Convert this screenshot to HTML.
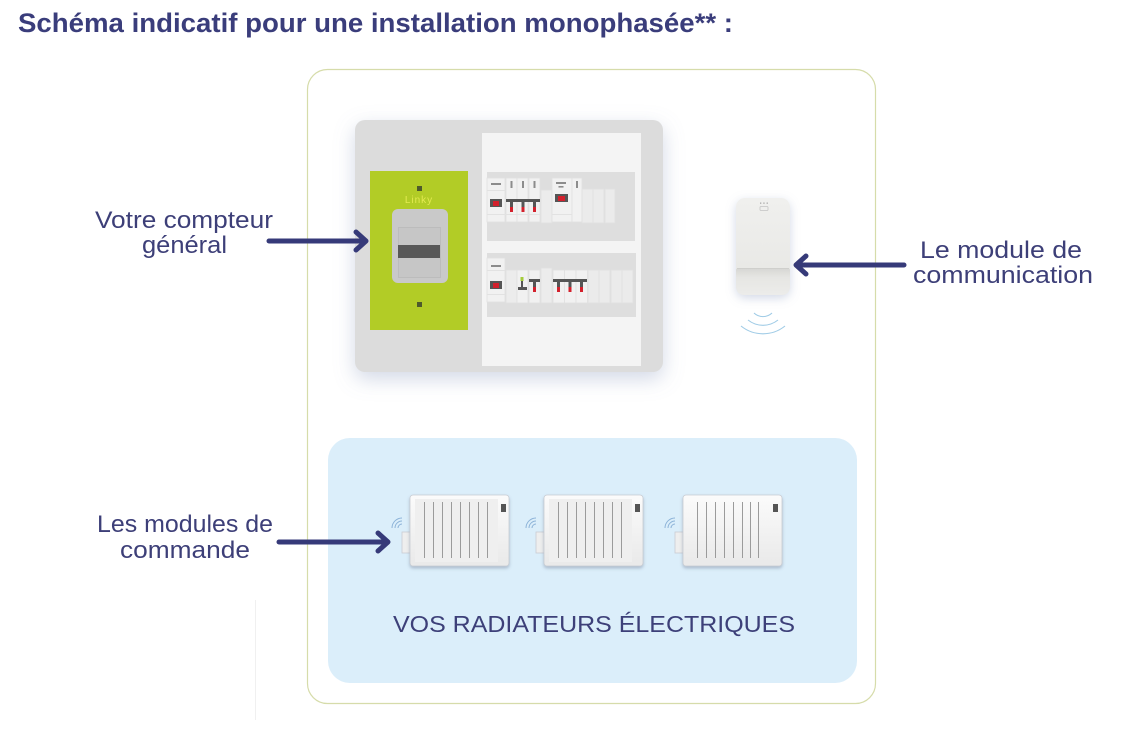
<!DOCTYPE html>
<html>
<head>
<meta charset="utf-8">
<style>
  html,body{margin:0;padding:0;background:#fff;}
  svg{display:block;}
  text{font-family:"Liberation Sans",sans-serif;}
</style>
</head>
<body>
<svg width="1138" height="732" viewBox="0 0 1138 732" xmlns="http://www.w3.org/2000/svg">
  <defs>
    <filter id="panelShadow" x="-20%" y="-20%" width="140%" height="150%">
      <feDropShadow dx="0" dy="7" stdDeviation="10" flood-color="#7f92b8" flood-opacity="0.35"/>
    </filter>
    <filter id="modShadow" x="-40%" y="-20%" width="180%" height="150%">
      <feDropShadow dx="0" dy="3" stdDeviation="5" flood-color="#8090b8" flood-opacity="0.35"/>
    </filter>
    <filter id="radShadow" x="-10%" y="-10%" width="120%" height="130%">
      <feDropShadow dx="0" dy="2" stdDeviation="1.5" flood-color="#6d7d96" flood-opacity="0.45"/>
    </filter>
    <linearGradient id="radGrad" x1="0" y1="0" x2="0" y2="1">
      <stop offset="0" stop-color="#fbfbfb"/>
      <stop offset="1" stop-color="#e9e9e9"/>
    </linearGradient>
    <linearGradient id="modGrad" x1="0" y1="0" x2="0" y2="1">
      <stop offset="0" stop-color="#f0f0ee"/>
      <stop offset="1" stop-color="#e6e6e3"/>
    </linearGradient>
    <linearGradient id="flapGrad" x1="0" y1="0" x2="0" y2="1">
      <stop offset="0" stop-color="#d6d6d3"/>
      <stop offset="0.35" stop-color="#e6e6e3"/>
      <stop offset="1" stop-color="#ececea"/>
    </linearGradient>
  </defs>

  <!-- Title -->
  <text x="18" y="32" font-size="27" font-weight="bold" fill="#3a3d7b" textLength="715" lengthAdjust="spacingAndGlyphs">Schéma indicatif pour une installation monophasée** :</text>

  <!-- faint line bottom left -->
  <line x1="255.5" y1="600" x2="255.5" y2="720" stroke="#f0f0f0" stroke-width="1"/>

  <!-- Container -->
  <rect x="307.5" y="69.5" width="568" height="634" rx="20" ry="20" fill="#fff" stroke="#d6dcaa" stroke-width="1.2"/>

  <!-- Blue box -->
  <rect x="328" y="438" width="529" height="245" rx="22" ry="22" fill="#dbeefa"/>

  <!-- Electrical panel -->
  <rect x="355" y="120" width="308" height="252" rx="10" ry="10" fill="#dcdcdc" filter="url(#panelShadow)"/>

  <!-- Linky -->
  <rect x="370" y="171" width="98" height="159" fill="#b2cc26"/>
  <rect x="417" y="186" width="5" height="5" fill="#4e5a2c"/>
  <rect x="417" y="302" width="5" height="5" fill="#4e5a2c"/>
  <text x="419" y="203" font-size="10" fill="#e3ea50" text-anchor="middle" letter-spacing="1">Linky</text>
  <rect x="392" y="209" width="56" height="74" rx="6" fill="#c9c9c9"/>
  <rect x="398.5" y="227.5" width="42" height="50" fill="#c6c6c6" stroke="#bcbcbc" stroke-width="1"/>
  <rect x="398" y="245" width="42" height="13" fill="#585858"/>

  <!-- Breaker area -->
  <rect x="482" y="133" width="159" height="233" fill="#f4f4f4"/>
  <rect x="487" y="172" width="148" height="69" fill="#dedede"/>
  <rect x="487" y="253" width="149" height="64" fill="#dedede"/>

  <g stroke="#e0e0e0" stroke-width="0.8">
    <!-- row 1 -->
    <rect x="487" y="178" width="18" height="44" fill="#f1f1f1"/>
    <rect x="506" y="178" width="11" height="44" fill="#f1f1f1"/>
    <rect x="517" y="178" width="11" height="44" fill="#f1f1f1"/>
    <rect x="529" y="178" width="11" height="44" fill="#f1f1f1"/>
    <rect x="541" y="190" width="11" height="33" fill="#ececec"/>
    <rect x="552" y="178" width="20" height="44" fill="#f1f1f1"/>
    <rect x="572" y="178" width="10" height="44" fill="#f1f1f1"/>
    <rect x="582" y="189" width="11" height="34" fill="#ebebeb"/>
    <rect x="593" y="189" width="11" height="34" fill="#ebebeb"/>
    <rect x="605" y="189" width="10" height="34" fill="#ebebeb"/>
    <!-- row 2 -->
    <rect x="487" y="258" width="18" height="44" fill="#f1f1f1"/>
    <rect x="506" y="270" width="11" height="33" fill="#ececec"/>
    <rect x="517" y="270" width="11" height="33" fill="#f1f1f1"/>
    <rect x="529" y="270" width="11" height="33" fill="#f1f1f1"/>
    <rect x="541" y="268" width="11" height="35" fill="#ececec"/>
    <rect x="553" y="270" width="11.5" height="33" fill="#f1f1f1"/>
    <rect x="564.5" y="270" width="11.5" height="33" fill="#f1f1f1"/>
    <rect x="576" y="270" width="11.5" height="33" fill="#f1f1f1"/>
    <rect x="588" y="270" width="11" height="33" fill="#ebebeb"/>
    <rect x="599" y="270" width="11" height="33" fill="#ebebeb"/>
    <rect x="611" y="270" width="11" height="33" fill="#ebebeb"/>
    <rect x="622" y="270" width="11" height="33" fill="#ebebeb"/>
  </g>
  <!-- module separators -->
  <g fill="#e2e2e2">
    <rect x="487" y="190" width="18" height="1"/>
    <rect x="487" y="214" width="53" height="1"/>
    <rect x="552" y="214" width="20" height="1"/>
    <rect x="487" y="270" width="18" height="1"/>
    <rect x="487" y="294" width="18" height="1"/>
  </g>
  <!-- row1 marks -->
  <g fill="#8c8c8c">
    <rect x="491" y="183" width="10" height="2"/>
    <rect x="510.5" y="181" width="2" height="7"/>
    <rect x="522" y="181" width="2" height="7"/>
    <rect x="533.5" y="181" width="2" height="7"/>
    <rect x="556" y="182" width="10" height="2"/>
    <rect x="558.5" y="186" width="5" height="1.6"/>
    <rect x="576" y="181" width="2" height="7"/>
    <rect x="491" y="265" width="10" height="2"/>
  </g>
  <g fill="#555">
    <rect x="490" y="199" width="12" height="8"/>
    <rect x="506" y="199" width="34" height="3"/>
    <rect x="510" y="202" width="3" height="6"/>
    <rect x="521.5" y="202" width="3" height="6"/>
    <rect x="533" y="202" width="3" height="6"/>
    <rect x="555" y="194" width="13" height="8"/>
    <rect x="490" y="281" width="12" height="8"/>
    <rect x="521" y="281" width="2" height="7"/>
    <rect x="518" y="287" width="9" height="3"/>
    <rect x="529" y="279" width="11" height="3"/>
    <rect x="533" y="282" width="3" height="6"/>
    <rect x="553" y="279" width="34" height="3"/>
    <rect x="557" y="282" width="3" height="6"/>
    <rect x="568.5" y="282" width="3" height="6"/>
    <rect x="580" y="282" width="3" height="6"/>
  </g>
  <g fill="#d3202c">
    <rect x="493" y="201" width="6" height="5"/>
    <rect x="510" y="207" width="3" height="5"/>
    <rect x="521.5" y="207" width="3" height="5"/>
    <rect x="533" y="207" width="3" height="5"/>
    <rect x="558" y="196" width="7" height="5"/>
    <rect x="493" y="283" width="6" height="5"/>
    <rect x="533" y="287" width="3" height="5"/>
    <rect x="557" y="287" width="3" height="5"/>
    <rect x="568.5" y="287" width="3" height="5"/>
    <rect x="580" y="287" width="3" height="5"/>
  </g>
  <rect x="520.5" y="277" width="3" height="4" fill="#a4cc3a"/>

  <!-- Communication module -->
  <g filter="url(#modShadow)">
    <rect x="736" y="198" width="54" height="97" rx="9" ry="9" fill="url(#modGrad)"/>
  </g>
  <path d="M736 270 Q736 268 740 268 L786 268 Q790 268 790 270 L790 286 Q790 295 781 295 L745 295 Q736 295 736 286 Z" fill="url(#flapGrad)"/>
  <line x1="737" y1="268.5" x2="789" y2="268.5" stroke="#cfcfcc" stroke-width="1"/>
  <g fill="#a9a9a9">
    <rect x="760" y="202.5" width="1.3" height="1.3"/>
    <rect x="763.3" y="202.5" width="1.3" height="1.3"/>
    <rect x="766.6" y="202.5" width="1.3" height="1.3"/>
  </g>
  <rect x="760" y="206.5" width="8" height="4" rx="1" fill="none" stroke="#c4c4c4" stroke-width="0.8"/>

  <!-- waves under module -->
  <g fill="none" stroke="#9fcbe6" stroke-width="1.1">
    <path d="M754 313 A13 13 0 0 0 772 313"/>
    <path d="M748 320 A24 24 0 0 0 778 320"/>
    <path d="M741 326 A35 35 0 0 0 785 326"/>
  </g>

  <!-- Radiators -->
  <g id="rad1">
    <g fill="none" stroke="#8db3d8" stroke-width="1">
      <path d="M398 528 A4 4 0 0 1 402 524"/>
      <path d="M395 528 A7 7 0 0 1 402 521"/>
      <path d="M392 528 A10 10 0 0 1 402 518"/>
    </g>
    <rect x="402" y="532" width="9" height="21" fill="#eeeeee" stroke="#c9ccd2" stroke-width="0.8"/>
    <rect x="410" y="495" width="99" height="71" rx="3" fill="url(#radGrad)" stroke="#c8ccd3" stroke-width="0.8" filter="url(#radShadow)"/>
    <rect x="415" y="499" width="83" height="63" fill="#efefef"/>
    <g stroke="#9b9b9b" stroke-width="1">
      <line x1="424.5" y1="502" x2="424.5" y2="558"/>
      <line x1="433.5" y1="502" x2="433.5" y2="558"/>
      <line x1="442.5" y1="502" x2="442.5" y2="558"/>
      <line x1="451.5" y1="502" x2="451.5" y2="558"/>
      <line x1="460.5" y1="502" x2="460.5" y2="558"/>
      <line x1="469.5" y1="502" x2="469.5" y2="558"/>
      <line x1="478.5" y1="502" x2="478.5" y2="558"/>
      <line x1="487.5" y1="502" x2="487.5" y2="558"/>
    </g>
    <rect x="501" y="504" width="5" height="8" fill="#555"/>
  </g>
  <g id="rad2">
    <g fill="none" stroke="#8db3d8" stroke-width="1">
      <path d="M532 528 A4 4 0 0 1 536 524"/>
      <path d="M529 528 A7 7 0 0 1 536 521"/>
      <path d="M526 528 A10 10 0 0 1 536 518"/>
    </g>
    <rect x="536" y="532" width="9" height="21" fill="#eeeeee" stroke="#c9ccd2" stroke-width="0.8"/>
    <rect x="544" y="495" width="99" height="71" rx="3" fill="url(#radGrad)" stroke="#c8ccd3" stroke-width="0.8" filter="url(#radShadow)"/>
    <rect x="549" y="499" width="83" height="63" fill="#efefef"/>
    <g stroke="#9b9b9b" stroke-width="1">
      <line x1="558.5" y1="502" x2="558.5" y2="558"/>
      <line x1="567.5" y1="502" x2="567.5" y2="558"/>
      <line x1="576.5" y1="502" x2="576.5" y2="558"/>
      <line x1="585.5" y1="502" x2="585.5" y2="558"/>
      <line x1="594.5" y1="502" x2="594.5" y2="558"/>
      <line x1="603.5" y1="502" x2="603.5" y2="558"/>
      <line x1="612.5" y1="502" x2="612.5" y2="558"/>
      <line x1="621.5" y1="502" x2="621.5" y2="558"/>
    </g>
    <rect x="635" y="504" width="5" height="8" fill="#555"/>
  </g>
  <g id="rad3">
    <g fill="none" stroke="#8db3d8" stroke-width="1">
      <path d="M671 528 A4 4 0 0 1 675 524"/>
      <path d="M668 528 A7 7 0 0 1 675 521"/>
      <path d="M665 528 A10 10 0 0 1 675 518"/>
    </g>
    <rect x="675" y="532" width="9" height="21" fill="#eeeeee" stroke="#c9ccd2" stroke-width="0.8"/>
    <rect x="683" y="495" width="99" height="71" rx="3" fill="url(#radGrad)" stroke="#c8ccd3" stroke-width="0.8" filter="url(#radShadow)"/>
    <g stroke="#9b9b9b" stroke-width="1">
      <line x1="697.5" y1="502" x2="697.5" y2="558"/>
      <line x1="706.5" y1="502" x2="706.5" y2="558"/>
      <line x1="715.5" y1="502" x2="715.5" y2="558"/>
      <line x1="724.5" y1="502" x2="724.5" y2="558"/>
      <line x1="733.5" y1="502" x2="733.5" y2="558"/>
      <line x1="742.5" y1="502" x2="742.5" y2="558"/>
      <line x1="750.5" y1="502" x2="750.5" y2="558"/>
      <line x1="758.5" y1="502" x2="758.5" y2="558"/>
    </g>
    <rect x="773" y="504" width="5" height="8" fill="#555"/>
  </g>

  <text x="393" y="632" font-size="23" fill="#3d4079" textLength="402" lengthAdjust="spacingAndGlyphs">VOS RADIATEURS ÉLECTRIQUES</text>

  <!-- Arrows -->
  <g stroke="#363a79" stroke-width="5" stroke-linecap="round" stroke-linejoin="round" fill="none">
    <line x1="269" y1="241" x2="365" y2="241"/>
    <polyline points="356,232 366,241 356,250"/>
    <line x1="279" y1="542" x2="387" y2="542"/>
    <polyline points="378,533 388,542 378,551"/>
    <line x1="904" y1="265" x2="797" y2="265"/>
    <polyline points="806,256 796,265 806,274"/>
  </g>

  <!-- Labels -->
  <g fill="#3d3f78" font-size="24">
    <text x="95" y="228" textLength="178" lengthAdjust="spacingAndGlyphs">Votre compteur</text>
    <text x="142" y="253" textLength="85" lengthAdjust="spacingAndGlyphs">général</text>
    <text x="97" y="532" textLength="176" lengthAdjust="spacingAndGlyphs">Les modules de</text>
    <text x="120" y="558" textLength="130" lengthAdjust="spacingAndGlyphs">commande</text>
    <text x="920" y="258" textLength="162" lengthAdjust="spacingAndGlyphs">Le module de</text>
    <text x="913" y="283" textLength="180" lengthAdjust="spacingAndGlyphs">communication</text>
  </g>
</svg>
</body>
</html>
